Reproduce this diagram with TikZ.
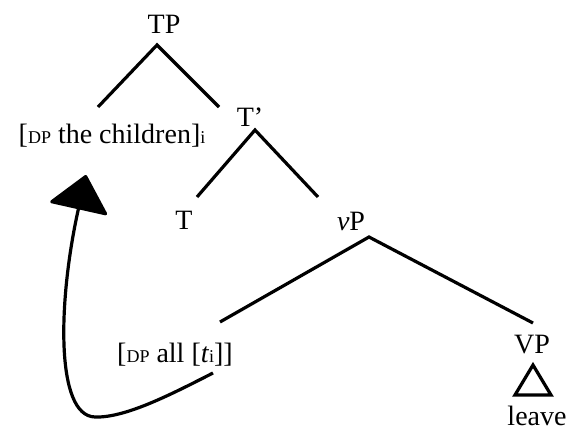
\documentclass[tikz,border=0pt]{standalone}
\usepackage{fontspec}
\setmainfont{Liberation Serif}
\usetikzlibrary{arrows.meta}
\newcommand\lsub[1]{\raisebox{-.6pt}{\fontsize{13.5}{14}\selectfont #1}}

\begin{document}
\begin{tikzpicture}[x=.75pt,y=-.75pt,
 lbl/.style={anchor=base,inner sep=0pt,font=\fontsize{21}{25}\selectfont},
 branch/.style={line width=2.4pt,line join=miter},
 mvarrow/.style={line width=2.4pt,-{Triangle[length=27pt,width=46pt,round]}}]
\useasboundingbox (0,0) rectangle (569,432);
% labels
\node[lbl] (TP) at (164,33) {TP};
\node[lbl] (DPch) at (112,143) {[\lsub{DP} the children]\lsub{i}};
\node[lbl] (Tbar) at (250,126) {T'};
\node[lbl] (T) at (184,229) {T};
\node[lbl] (vP) at (351,230) {\textit{v}P};
\node[lbl] (DPall) at (175,362) {[\lsub{DP} all [\textit{t}\lsub{i}]]};
\node[lbl] (VP) at (532,353) {VP};
\node[lbl] (leave) at (537,425) {leave};
% branch ends
\foreach \n/\p in {TPf/{157,45},DPchh/{98,107},Tbarh/{219,107},
 Tbarf/{255,130},Th/{197,197},vPh/{318,197},
 vPf/{369,237},DPallh/{220,322},VPh/{533,323}}
 \coordinate (\n) at (\p);
\foreach \l/\m/\r in {DPchh/TPf/Tbarh,Th/Tbarf/vPh,DPallh/vPf/VPh}
 \draw[branch] (\l) -- (\m) -- (\r);
% roof over VP
\draw[branch] (533,365) -- (551,395) -- (515,395) -- cycle;
% movement
\coordinate (trace) at (213,373);
\coordinate (low) at (95,417);
\coordinate (land) at (86,175);
\draw[mvarrow] (trace) .. controls (170,395) and (125,418) .. (low)
 .. controls (55,416) and (58,300) .. (land);
\end{tikzpicture}
\end{document}
